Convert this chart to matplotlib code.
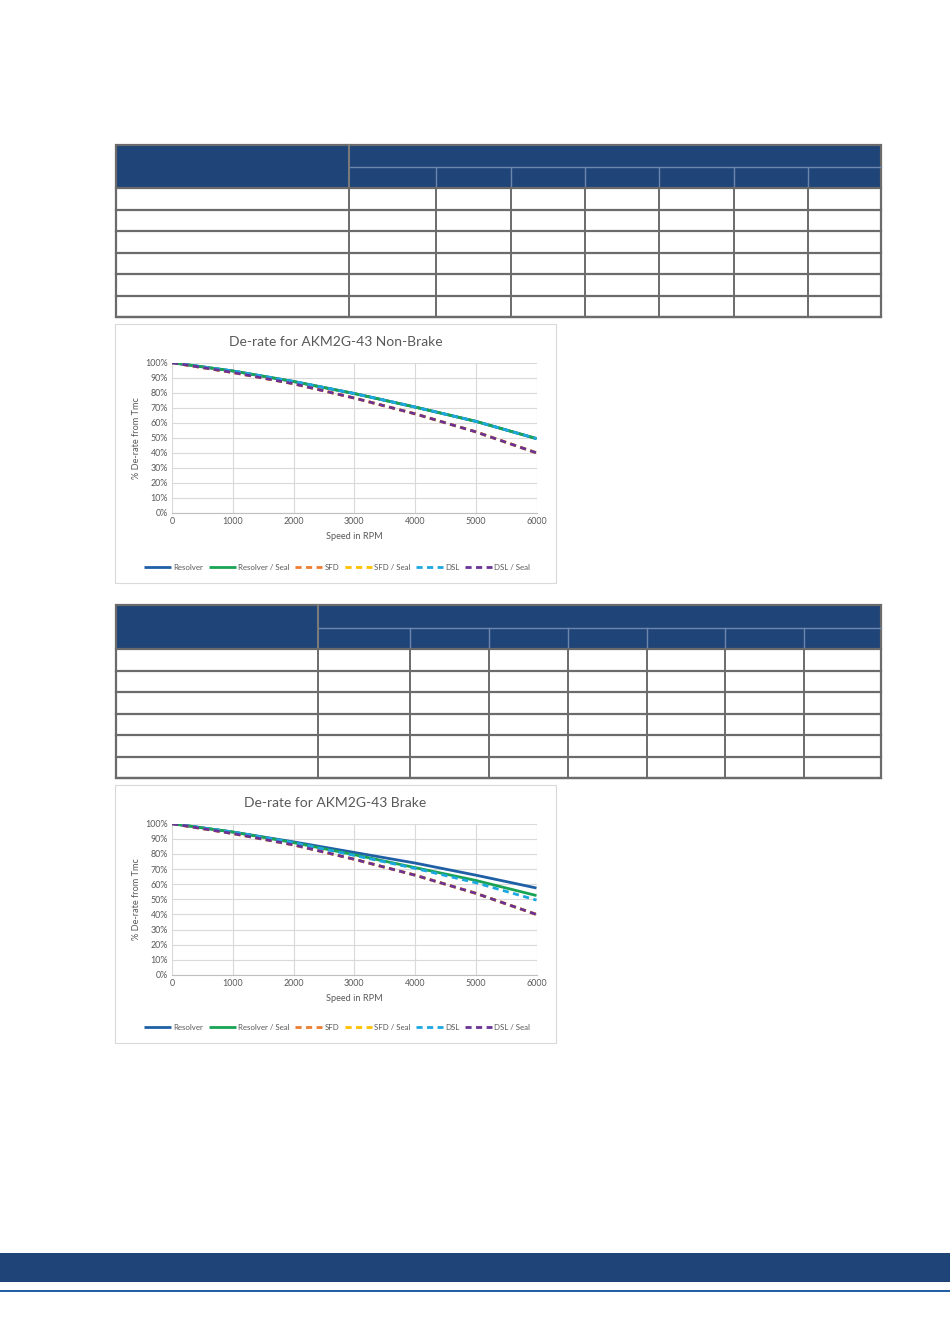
import matplotlib
matplotlib.use("Agg")
import matplotlib.pyplot as plt
from matplotlib.patches import Rectangle
from matplotlib.lines import Line2D
from matplotlib.ticker import FuncFormatter

plt.rcParams['font.family'] = ['Lato', 'DejaVu Sans']

# data (percent of Tmc)
speed = [0, 1000, 2000, 3000, 4000, 5000, 6000]

nb_resolver = [100, 94.5, 87.5, 79.5, 70.5, 61, 49.5]
nb_resolver_seal = [100, 94.5, 87.5, 79.5, 70.5, 61, 49.5]
nb_sfd = [100, 93.5, 86, 76.5, 66, 54, 40]
nb_sfd_seal = [100, 93.5, 86, 76.5, 66, 54, 40]
nb_dsl = [100, 94.5, 87.5, 79.5, 70.5, 61, 49.5]
nb_dsl_seal = [100, 93.5, 86, 76.5, 66, 54, 40]

br_resolver = [100, 94.5, 88, 81, 74, 66, 57.5]
br_resolver_seal = [100, 94.5, 87.5, 79.5, 71, 62.5, 52.5]
br_sfd = [100, 93.5, 86, 76.5, 66, 54, 40]
br_sfd_seal = [100, 93.5, 86, 76.5, 66, 54, 40]
br_dsl = [100, 94.5, 87.5, 79, 70.5, 61, 49.5]
br_dsl_seal = [100, 93.5, 86, 76.5, 66, 54, 40]

labels = ["Resolver", "Resolver / Seal", "SFD", "SFD / Seal", "DSL", "DSL / Seal"]
colors = ["#1f5fa6", "#1aa354", "#ed7d31", "#ffc000", "#1ca7e0", "#6a3196"]
styles = ["-", "-", "--", "--", "--", "--"]

W, H = 950, 1344
fig = plt.figure(figsize=(W / 100, H / 100), dpi=100)
fig.patch.set_facecolor("white")

navy = "#1f4478"


def px_rect(x0, y0, x1, y1, **kw):
    fig.add_artist(Rectangle((x0 / W, 1 - y1 / H), (x1 - x0) / W, (y1 - y0) / H,
                             transform=fig.transFigure, **kw))


def px_line(x0, y0, x1, y1, **kw):
    fig.add_artist(Line2D([x0 / W, x1 / W], [1 - y0 / H, 1 - y1 / H],
                          transform=fig.transFigure, **kw))


def draw_table(top, hdr_mid, hdr_bot, bottom, cols, left=116, right=881):
    px_rect(left, top, right, hdr_bot, facecolor=navy, edgecolor="none")
    # header inner lines
    px_line(cols[0], hdr_mid, right, hdr_mid, color="#6d86ad", lw=1.0)
    for c in cols[1:]:
        px_line(c, hdr_mid, c, hdr_bot, color="#6d86ad", lw=1.0)
    px_line(cols[0], top, cols[0], hdr_bot, color="#7a7a7a", lw=1.5)
    # body rows
    nrows = 6
    rh = (bottom - hdr_bot) / nrows
    for i in range(nrows + 1):
        y = hdr_bot + i * rh
        px_line(left, y, right, y, color="#6b6b6b", lw=1.6)
    for c in [left] + cols + [right]:
        px_line(c, hdr_bot, c, bottom, color="#6b6b6b", lw=1.4)
    px_rect(left, top, right, bottom, facecolor="none", edgecolor="#6b6b6b", lw=1.6)


draw_table(145, 167, 188, 317, [349, 436, 511, 585, 659, 734, 808])
draw_table(605, 628, 649, 778, [318, 410, 489, 568, 647, 725, 804])

# footer band
px_rect(0, 1253, 950, 1282, facecolor=navy, edgecolor="none")
px_rect(0, 1289.5, 950, 1292, facecolor="#2160a4", edgecolor="none")


def draw_chart(box_top, box_bot, plot_top, plot_bot, title, series):
    px_rect(115, box_top, 556, box_bot, facecolor="white", edgecolor="#d9d9d9", lw=0.8, zorder=-5)
    ax = fig.add_axes([172 / W, 1 - plot_bot / H, (536.5 - 172) / W, (plot_bot - plot_top) / H])
    ax.patch.set_alpha(0)
    for vals, lab, col, ls in zip(series, labels, colors, styles):
        ax.plot(speed, vals, color=col, ls=ls, lw=2.0, label=lab,
                dashes=(2.2, 1.6) if ls == "--" else (None, None), solid_capstyle="butt")
    ax.set_xlim(0, 6000)
    ax.set_ylim(0, 100)
    ax.set_xticks(range(0, 6001, 1000))
    ax.set_yticks(range(0, 101, 10))
    ax.yaxis.set_major_formatter(FuncFormatter(lambda v, p: "%d%%" % v))
    ax.grid(True, color="#d9d9d9", lw=0.8)
    ax.set_axisbelow(True)
    for s in ["top", "right", "left"]:
        ax.spines[s].set_visible(False)
    ax.spines["bottom"].set_color("#bfbfbf")
    ax.tick_params(length=0, labelsize=6.4, labelcolor="#595959", pad=3)
    ax.set_xlabel("Speed in RPM", fontsize=6.6, color="#595959", labelpad=4)
    ax.set_ylabel("% De-rate from Tmc", fontsize=6.6, color="#595959", labelpad=3)
    fig.text(335.5 / W, 1 - (box_top + 18) / H, title, ha="center", va="center",
             fontsize=10, color="#595959")
    handles, labs = ax.get_legend_handles_labels()
    fig.legend(handles, labs, loc="center", bbox_to_anchor=(337 / W, 1 - (box_bot - 16) / H),
               ncol=6, frameon=False, fontsize=5.7, handlelength=3.4, handletextpad=0.3,
               columnspacing=0.7, labelcolor="#595959")
    return ax


draw_chart(324, 583, 362.7, 513, "De-rate for AKM2G-43 Non-Brake",
           [nb_resolver, nb_resolver_seal, nb_sfd, nb_sfd_seal, nb_dsl, nb_dsl_seal])
draw_chart(785, 1043, 823.7, 975, "De-rate for AKM2G-43 Brake",
           [br_resolver, br_resolver_seal, br_sfd, br_sfd_seal, br_dsl, br_dsl_seal])

fig.savefig("out.png", dpi=100)
